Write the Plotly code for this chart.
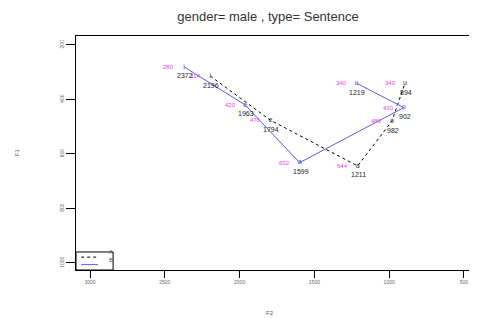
import plotly.graph_objects as go

vowels = ["i", "e", "a", "o", "u"]
# series A (dotted black)
a_f2 = [2196, 1794, 1211, 982, 894]
a_f1 = [314, 476, 644, 480, 340]
# series B (solid blue)
b_f2 = [2372, 1963, 1599, 902, 1219]
b_f1 = [280, 420, 632, 430, 340]
series_names = ["A", "B"]

x_ticks = [3000, 2500, 2000, 1500, 1000, 500]
y_ticks = [200, 400, 600, 800, 1000]

title = "gender= male , type= Sentence"
FONT = "Liberation Sans, Arial"
A_LINE = dict(color="black", dash="dot", width=1)
B_LINE = dict(color="#5a5ae6", width=1)

fig = go.Figure()
fig.add_trace(go.Scatter(x=a_f2, y=a_f1, mode="lines", name=series_names[0],
                         line=A_LINE, showlegend=False))
fig.add_trace(go.Scatter(x=b_f2, y=b_f1, mode="lines", name=series_names[1],
                         line=B_LINE, showlegend=False))

for f2s, f1s, col in [(a_f2, a_f1, "#333333"), (b_f2, b_f1, "#4a5ad8")]:
    fig.add_trace(go.Scatter(x=f2s, y=f1s, mode="text", text=vowels,
                             textfont=dict(family=FONT, size=7, color=col),
                             showlegend=False, hoverinfo="skip"))
    for x, y in zip(f2s, f1s):
        fig.add_annotation(x=x, y=y, text=str(y), showarrow=False,
                           xshift=-15, font=dict(family=FONT, size=6, color="#e83ee8"))
        fig.add_annotation(x=x, y=y, text=str(x), showarrow=False,
                           yshift=-9, xshift=1, font=dict(family=FONT, size=7, color="#222222"))

# manual small legend box (bottom-left inside plot)
fig.add_shape(type="rect", xref="paper", yref="paper", x0=0, x1=0.093, y0=0, y1=0.077,
              line=dict(color="black", width=1), fillcolor="white", layer="above")
for i, (nm, ln) in enumerate(zip(series_names, [A_LINE, B_LINE])):
    yy = 0.055 - i * 0.032
    fig.add_shape(type="line", xref="paper", yref="paper", x0=0.013, x1=0.055, y0=yy, y1=yy,
                  line=ln, layer="above")
    fig.add_annotation(xref="paper", yref="paper", x=0.078, y=yy, text=nm, showarrow=False,
                       font=dict(family=FONT, size=6, color="#555555"))

# axis titles
fig.add_annotation(xref="paper", yref="paper", x=0.486, y=-0.185, yanchor="middle", text="F2",
                   showarrow=False, font=dict(family=FONT, size=6, color="#555555"))
fig.add_annotation(xref="paper", yref="paper", x=-0.16, y=0.504, text="F1", textangle=-90,
                   showarrow=False, font=dict(family=FONT, size=6, color="#555555"))

fig.update_layout(
    width=477, height=318,
    margin=dict(l=68, r=10, t=28, b=56),
    paper_bgcolor="white", plot_bgcolor="white",
    title=dict(text=title, x=0.545, xanchor="center", y=0.972, yanchor="middle",
               font=dict(family=FONT, size=13, color="#333333")),
    font=dict(family=FONT, size=6, color="#555555"),
    showlegend=False,
)
fig.update_xaxes(range=[3094, 426], tickvals=x_ticks, ticktext=[str(v) for v in x_ticks],
                 showgrid=False, zeroline=False, showline=True, linecolor="black",
                 linewidth=1, mirror=True, ticks="outside", ticklen=7, tickcolor="black",
                 tickfont=dict(size=5, color="#666666"), automargin=False)
fig.update_yaxes(range=[1026, 167], tickvals=y_ticks, ticktext=[str(v) for v in y_ticks],
                 showgrid=False, zeroline=False, showline=True, linecolor="black",
                 linewidth=1, mirror=True, ticks="outside", ticklen=9, tickcolor="black",
                 tickangle=-90, tickfont=dict(size=5, color="#666666"), automargin=False)

fig.write_html("out.html")
